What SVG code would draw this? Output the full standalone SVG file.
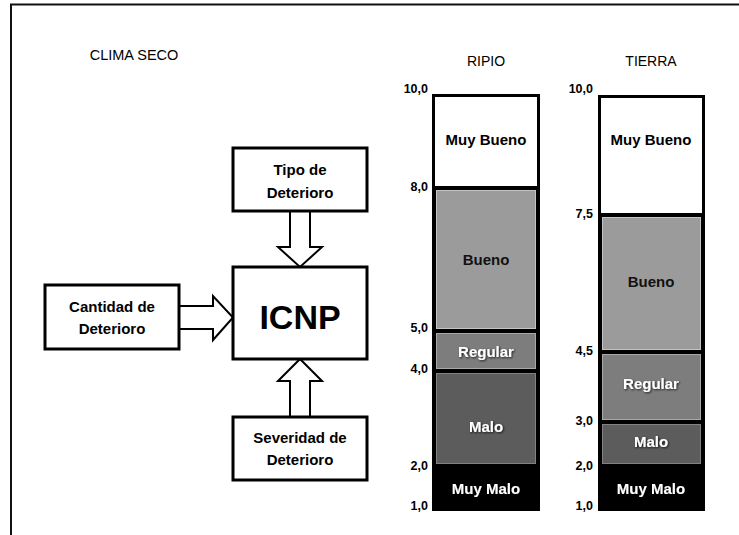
<svg xmlns="http://www.w3.org/2000/svg" width="739" height="535" viewBox="0 0 739 535">
<defs>
<style>
text{font-family:"Liberation Sans",Arial,sans-serif;}
.box{fill:#fff;stroke:#000;stroke-width:3;}
.arr{fill:#fff;stroke:#000;stroke-width:2;stroke-linejoin:miter;}
.bl{font-size:15px;font-weight:bold;text-anchor:middle;fill:#000;}
.title{font-size:14px;text-anchor:middle;fill:#000;}
.sc{font-size:12.5px;font-weight:bold;text-anchor:end;fill:#000;}
.wt{font-size:15px;font-weight:bold;text-anchor:middle;fill:#fff;filter:url(#sh);}
.dk{font-size:15px;font-weight:bold;text-anchor:middle;fill:#111;}
</style>
<filter id="sh" x="-20%" y="-40%" width="140%" height="180%"><feDropShadow dx="1" dy="1" stdDeviation="0.8" flood-color="#000" flood-opacity="0.8"/></filter>
</defs>
<rect width="739" height="535" fill="#fff"/>
<g id="frame" fill="none" stroke="#111" stroke-width="2">
<line x1="10" y1="4.5" x2="739" y2="4.5"/>
<line x1="11" y1="4" x2="11" y2="535"/>
</g>
<text x="134" y="60" font-size="14.5" text-anchor="middle">CLIMA SECO</text>

<g id="connectors">
<polygon class="arr" points="290,211 310,211 310,247 322,247 300,267 278,247 290,247"/>
<polygon class="arr" points="179,306 213,306 213,296 233,317.5 213,340 213,329 179,329"/>
<polygon class="arr" points="290,417 310,417 310,381 322,381 300,359 278,381 290,381"/>
</g>

<g id="tipo">
<rect class="box" x="233" y="148" width="134" height="63"/>
<text class="bl" x="300" y="175">Tipo de</text>
<text class="bl" x="300" y="198">Deterioro</text>
</g>
<g id="icnp">
<rect class="box" x="233" y="267" width="134" height="92"/>
<text x="300" y="329" font-size="34" font-weight="bold" text-anchor="middle">ICNP</text>
</g>
<g id="cantidad">
<rect class="box" x="45" y="285" width="134" height="64"/>
<text class="bl" x="112" y="312">Cantidad de</text>
<text class="bl" x="112" y="334">Deterioro</text>
</g>
<g id="severidad">
<rect class="box" x="233" y="417" width="134" height="63"/>
<text class="bl" x="300" y="443">Severidad de</text>
<text class="bl" x="300" y="465">Deterioro</text>
</g>

<g id="ripio">
<text class="title" x="486" y="66">RIPIO</text>
<rect x="432" y="94" width="108" height="417" fill="#000"/>
<rect x="435" y="97" width="102" height="89" fill="#fff"/>
<rect x="436.5" y="190.5" width="99" height="138" fill="#9b9b9b" stroke="#c4c4c4" stroke-width="1"/>
<rect x="436.5" y="333.5" width="99" height="35" fill="#7d7d7d" stroke="#a8a8a8" stroke-width="1"/>
<rect x="436.5" y="373.5" width="99" height="90" fill="#5c5c5c" stroke="#828282" stroke-width="1"/>
<text class="bl" x="486" y="145">Muy Bueno</text>
<text class="dk" x="486" y="265">Bueno</text>
<text class="wt" x="486" y="357">Regular</text>
<text class="wt" x="486" y="432">Malo</text>
<text class="wt" x="486" y="494">Muy Malo</text>
<text class="sc" x="428" y="93">10,0</text>
<text class="sc" x="428" y="191">8,0</text>
<text class="sc" x="428" y="332">5,0</text>
<text class="sc" x="428" y="373">4,0</text>
<text class="sc" x="428" y="470">2,0</text>
<text class="sc" x="428" y="510">1,0</text>
</g>

<g id="tierra">
<text class="title" x="651" y="66">TIERRA</text>
<rect x="598" y="95" width="107" height="416" fill="#000"/>
<rect x="601" y="98" width="101" height="115" fill="#fff"/>
<rect x="602.5" y="217.5" width="98" height="132" fill="#9b9b9b" stroke="#c4c4c4" stroke-width="1"/>
<rect x="602.5" y="354.5" width="98" height="65" fill="#7d7d7d" stroke="#a8a8a8" stroke-width="1"/>
<rect x="602.5" y="424.5" width="98" height="39" fill="#5c5c5c" stroke="#828282" stroke-width="1"/>
<text class="bl" x="651" y="145">Muy Bueno</text>
<text class="dk" x="651" y="287">Bueno</text>
<text class="wt" x="651" y="389">Regular</text>
<text class="wt" x="651" y="447">Malo</text>
<text class="wt" x="651" y="494">Muy Malo</text>
<text class="sc" x="593" y="93">10,0</text>
<text class="sc" x="593" y="218">7,5</text>
<text class="sc" x="593" y="355">4,5</text>
<text class="sc" x="593" y="425">3,0</text>
<text class="sc" x="593" y="470">2,0</text>
<text class="sc" x="593" y="510">1,0</text>
</g>
</svg>
